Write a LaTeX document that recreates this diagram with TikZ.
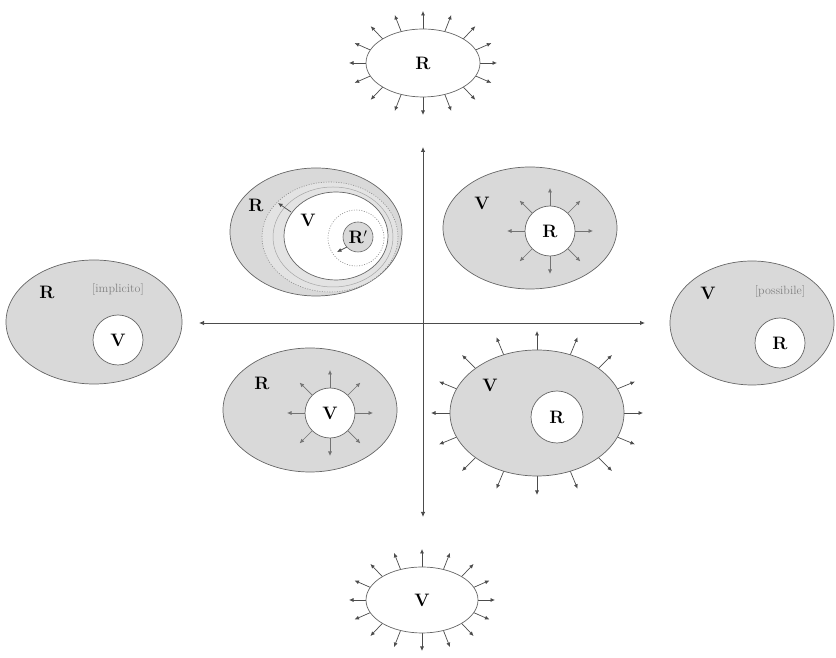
\documentclass[tikz,border=0pt]{standalone}
\usepackage{amsmath,amssymb}
\usepackage{tikz}
\usetikzlibrary{arrows.meta, calc}

\tikzset{
    zone/.style={draw=black!60, line width=0.7pt, fill=black!15},
    hole/.style={draw=black!60, line width=0.7pt, fill=white},
    ray/.style={draw=black!70, line width=0.7pt, -{Latex[length=4.5pt,width=4pt]}},
    axis/.style={draw=black!70, line width=0.8pt, {Latex[length=5pt,width=4.5pt]}-{Latex[length=5pt,width=4.5pt]}},
    lab/.style={font=\fontsize{18}{20}\selectfont\bfseries},
    note/.style={font=\fontsize{12}{14}\selectfont, text=black!50},
    dots/.style={draw=black!45, line width=0.6pt, dash pattern=on 1pt off 1.5pt}
}

\begin{document}
\begin{tikzpicture}[x=1pt, y=1pt]
        \useasboundingbox (0,0) rectangle (836,658);

        \coordinate (T) at (423, 595);
        \coordinate (B) at (422, 58);
        \coordinate (Q1) at (530, 430);
        \coordinate (Q2) at (316, 426);
        \coordinate (Q3) at (310, 248);
        \coordinate (Q4) at (537, 245);
        \coordinate (W) at (94, 336);
        \coordinate (E) at (752, 335);

        % axes
        \coordinate (ytop) at (423, 511);
        \coordinate (ybot) at (423, 141);
        \coordinate (xlft) at (199, 335);
        \coordinate (xrgt) at (645, 335);
        \draw[axis] (ybot) -- (ytop);
        \draw[axis] (xlft) -- (xrgt);

        % top and bottom
        \foreach \a in {0,22.5,...,337.5}
            \draw[ray] ($(T)+(\a:57 and 34)$) -- ($(T)+(\a:74 and 52)$);
        \draw[hole] (T) ellipse (57 and 34);
        \node[lab] (rT) at (T) {R};

        \foreach \a in {0,22.5,...,337.5}
            \draw[ray] ($(B)+(\a:56 and 33)$) -- ($(B)+(\a:73 and 51)$);
        \draw[hole] (B) ellipse (56 and 33);
        \node[lab] (vB) at (B) {V};

        % left and right
        \draw[zone] (W) ellipse (88 and 62);
        \draw[hole] ($(W)+(24,-18)$) circle (25);
        \node[lab] (rW) at (47, 366) {R};
        \node[note] (nW) at (118, 368) {[implicito]};
        \node[lab] (vW) at ($(W)+(24,-18)$) {V};

        \draw[zone] (E) ellipse (82 and 62);
        \draw[hole] ($(E)+(28,-20)$) circle (25);
        \node[lab] (vE) at (708, 365) {V};
        \node[note] (nE) at (780, 366) {[possibile]};
        \node[lab] (rE) at ($(E)+(28,-20)$) {R};

        % upper left
        \draw[zone] (Q2) ellipse (86 and 64);
        \draw[dots, fill=black!11] (330, 421) ellipse (68 and 55);
        \draw[draw=black!35, line width=0.5pt] (333, 421) ellipse (60 and 50);
        \draw[hole] (336, 422) ellipse (52 and 44);
        \draw[dots] (356, 420) circle (28);
        \draw[draw=black!60, fill=black!15, line width=0.6pt] (358, 421) circle (15);
        \coordinate (s1) at (291, 446);
        \coordinate (e1) at (278, 455);
        \coordinate (s2) at (347, 411);
        \coordinate (e2) at (337, 406);
        \draw[ray] (s1) -- (e1);
        \draw[ray] (s2) -- (e2);
        \node[lab] (rQ2) at (256, 453) {R};
        \node[lab] (vQ2) at (308, 438) {V};
        \node[lab] (rr) at (358, 421) {R$'$};

        % upper right
        \draw[zone] (Q1) ellipse (87 and 61);
        \foreach \a in {0,45,...,315}
            \draw[ray, draw=black!55] ($(550,427)+(\a:25)$) -- ($(550,427)+(\a:43)$);
        \draw[hole] (550, 427) circle (25);
        \node[lab] (vQ1) at (482, 455) {V};
        \node[lab] (rQ1) at (550, 427) {R};

        % lower left
        \draw[zone] (Q3) ellipse (87 and 62);
        \foreach \a in {0,45,...,315}
            \draw[ray, draw=black!55] ($(330,245)+(\a:25)$) -- ($(330,245)+(\a:43)$);
        \draw[hole] (330, 245) circle (25);
        \node[lab] (rQ3) at (262, 275) {R};
        \node[lab] (vQ3) at (330, 245) {V};

        % lower right
        \foreach \a in {0,22.5,...,337.5}
            \draw[ray] ($(Q4)+(\a:87 and 63)$) -- ($(Q4)+(\a:106 and 82)$);
        \draw[zone] (Q4) ellipse (87 and 63);
        \draw[hole] (557, 241) circle (26);
        \node[lab] (vQ4) at (490, 273) {V};
        \node[lab] (rQ4) at (557, 241) {R};

    \end{tikzpicture}
\end{document}
